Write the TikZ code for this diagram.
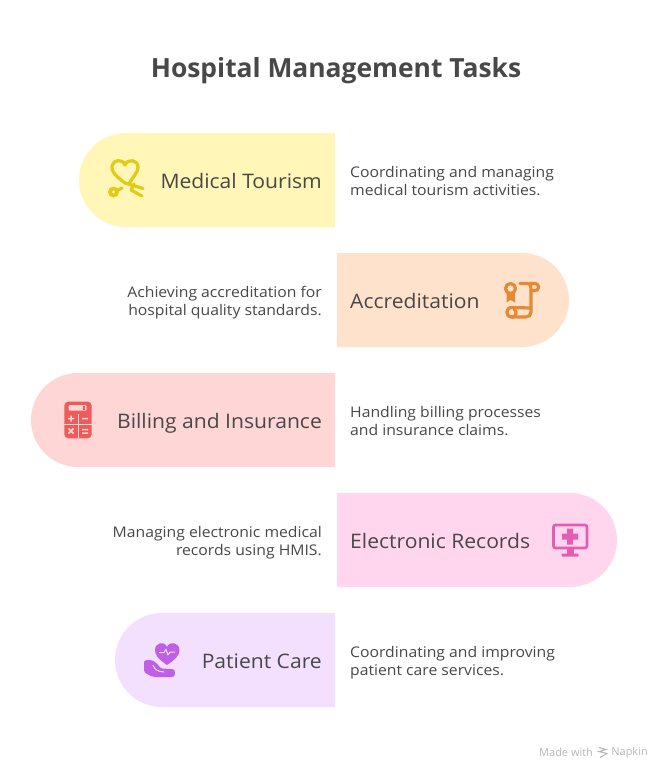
\documentclass[tikz,border=0pt]{standalone}
\usepackage{fontspec}
\setmainfont{Open Sans}
\newfontfamily\widefont[FakeStretch=1.055]{Open Sans}
\newfontfamily\descfont[FakeStretch=1.07]{Open Sans}
\newcommand{\evendepth}{\vphantom{gp}}
\definecolor{ink}{HTML}{484848}
\definecolor{pYel}{HTML}{FFF6B8}\definecolor{iYel}{HTML}{E2CB14}
\definecolor{pOra}{HTML}{FFE2CC}\definecolor{iOra}{HTML}{E58A33}
\definecolor{pRed}{HTML}{FFD6D6}\definecolor{iRed}{HTML}{EE5B5B}
\definecolor{pPnk}{HTML}{FFD6EE}\definecolor{iPnk}{HTML}{E35DB5}
\definecolor{pPur}{HTML}{F3E0FF}\definecolor{iPur}{HTML}{BF5FE6}
\tikzset{
 titletext/.style={font=\fontsize{26.4}{30}\selectfont\bfseries,text=ink,inner sep=0pt,anchor=base},
 lab/.style={font=\widefont\fontsize{20}{24}\selectfont,text=ink,inner sep=0pt},
 labL/.style={lab,anchor=base east},
 labR/.style={lab,anchor=base west},
 desc/.style={font=\descfont\fontsize{14.7}{18}\selectfont,text=ink,inner sep=0pt},
 descL/.style={desc,anchor=east,align=right},
 descR/.style={desc,anchor=west,align=left},
 ic/.style={line width=3.2pt,line cap=round,line join=round,fill=none},
}
\begin{document}
\begin{tikzpicture}[x=1pt,y=-1pt]
\useasboundingbox (0,0) rectangle (672,780);
\fill[white] (0,0) rectangle (672,780);
\node[titletext] (title) at (336,77) {Hospital Management Tasks};
% pills
\fill[pYel] (335,133) -- (126,133) arc[start angle=90,end angle=270,radius=47,y radius=-47] -- (335,227) -- cycle;
\fill[pOra] (337,253) -- (522,253) arc[start angle=90,end angle=-90,radius=47,y radius=-47] -- (337,347) -- cycle;
\fill[pRed] (335,373) -- (78,373) arc[start angle=90,end angle=270,radius=47,y radius=-47] -- (335,467) -- cycle;
\fill[pPnk] (337,493) -- (570,493) arc[start angle=90,end angle=-90,radius=47,y radius=-47] -- (337,587) -- cycle;
\fill[pPur] (335,613) -- (162,613) arc[start angle=90,end angle=270,radius=47,y radius=-47] -- (335,707) -- cycle;
% labels
\node[labL] (l1) at (322,188) {Medical Tourism};
\node[labR] (l2) at (350,308) {Accreditation};
\node[labL] (l3) at (322,428) {Billing and Insurance};
\node[labR] (l4) at (350,548) {Electronic Records};
\node[labL] (l5) at (322,668) {Patient Care};
% descriptions
\node[descR] (d1) at (350,183) {Coordinating and managing\\medical tourism activities.\evendepth};
\node[descL] (d2) at (322,303) {Achieving accreditation for\\hospital quality standards.\evendepth};
\node[descR] (d3) at (350,423) {Handling billing processes\\and insurance claims.\evendepth};
\node[descL] (d4) at (322,543) {Managing electronic medical\\records using HMIS.\evendepth};
\node[descR] (d5) at (350,663) {Coordinating and improving\\patient care services.\evendepth};
% stethoscope icon
\draw[ic,iYel] (143,188.5) -- (125,183) .. controls (116,176) and (111,172) .. (112,166) .. controls (113,160) and (122,158) .. (125,165) .. controls (128,158) and (138,160) .. (138,167) .. controls (138,173) and (133,176) .. (129,184);
\draw[ic,iYel] (131,190) -- (142,196) (134,184) -- (131,190);
\fill[iYel] (113.5,192) circle (5.5);
\fill[pYel] (113.5,192) circle (1.6);
\draw[ic,iYel] (118,190) -- (122,188);
% scroll icon
\draw[ic,iOra] (510.5,288.5) circle (5);
\fill[iOra] (506.5,293) -- (506.5,302.5) -- (510.5,300) -- (515,302.5) -- (515,293) -- cycle;
\draw[ic,iOra] (520,283.5) -- (535,283.5) arc[start angle=90,end angle=-90,radius=3.6,y radius=-3.6] -- (531,290.7);
\draw[ic,iOra] (529,283.5) .. controls (531,285) and (531,287) .. (531,290) -- (531,312) .. controls (531,315) and (529,317) .. (526,317) -- (512,317) .. controls (505,317) and (505,307.5) .. (512,307.5) -- (531,308);
\draw[ic,iOra] (512,317) .. controls (517,317) and (517,311) .. (514,309);
% calculator icon
\fill[iRed,rounded corners=4pt] (64.3,401.7) rectangle (91.7,438.3);
\fill[pRed,rounded corners=1pt] (68.5,405) rectangle (86.5,410.5);
\fill[iRed] (83,406) rectangle (84.5,409.5);
\fill[pRed] (64.3,424) rectangle (91.7,425);
\fill[pRed] (77.5,413.5) rectangle (78.5,438.3);
\draw[pRed,line width=1.5pt] (68,418.5) -- (74,418.5) (71,415.5) -- (71,421.5) (82,418.5) -- (88,418.5)
 (68.5,428.5) -- (73.5,433.5) (73.5,428.5) -- (68.5,433.5) (82,429.5) -- (88,429.5) (82,433) -- (88,433);
% monitor icon
\draw[iPnk,line width=2.6pt,rounded corners=2pt] (553.5,525) rectangle (587,548);
\fill[iPnk] (567,528.5) rectangle (573,544.5) (562,533.5) rectangle (578,539.5);
\fill[iPnk] (566.5,548) rectangle (573.5,554);
\fill[iPnk,rounded corners=1pt] (561.5,553.5) rectangle (578.5,556.5);
% care icon
\fill[iPur] (167,665) .. controls (158,659) and (155,655) .. (155,650) .. controls (155,643) and (164,640) .. (167,647) .. controls (170,640) and (179.5,643) .. (179.5,650) .. controls (179.5,655) and (176,659) .. (167,665) -- cycle;
\draw[pPur,line width=1pt,line join=round] (159,652.5) -- (164,652.5) -- (166,649.5) -- (168,655) -- (170,652) -- (175,652);
\fill[iPur,rounded corners=1.5pt] (144,660.5) -- (150,660) .. controls (155,661) and (158,665) .. (161,668.5) -- (172,669) .. controls (175.5,670) and (175.5,676) .. (172,677) -- (155,677) .. controls (150,676) and (147,674) .. (144,672) -- cycle;
\draw[pPur,line width=1pt,line cap=round] (153,665.5) .. controls (155,670) and (158,671.5) .. (164,672);
% footer
\node[font=\fontsize{11}{13}\selectfont,text=black!28,inner sep=0pt,anchor=west] (f1) at (539,752.5) {Made with};
\node[font=\fontsize{11}{13}\selectfont,text=black!28,inner sep=0pt,anchor=east] (f2) at (648,752.5) {Napkin};
\draw[black!28,line width=1.1pt] (599,747.5) -- (606,749.5) -- (599,751.5) -- (607,753.5) -- (600,757.5);
\end{tikzpicture}
\end{document}
